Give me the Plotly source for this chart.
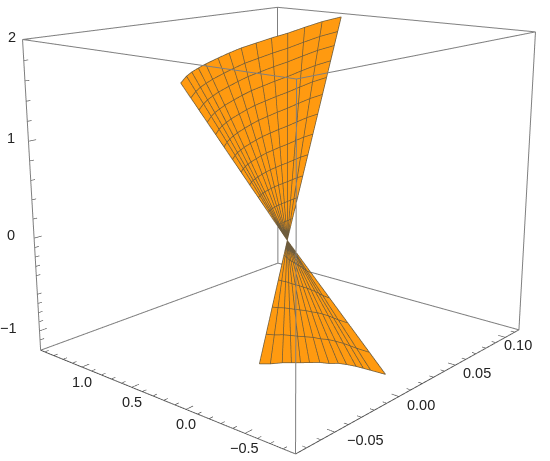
import numpy as np
import plotly.graph_objects as go

upper_x = [.108,.0955,.0837,.0723,.0618,.0518,.0424,.0345,.0270,.0188,.0137,.0092,.0052,0]
upper_y = [.723,.777,.819,.858,.898,.933,.967,.990,1.007,1.026,1.033,1.040,1.040,1.03]
upper_z = [1.98,1.943,1.896,1.848,1.811,1.771,1.733,1.693,1.653,1.605,1.573,1.541,1.507,1.45]
lower_x = [-.0255,-.0231,-.0204,-.0184,-.0164,-.0145,-.0123,-.0104,-.0085,-.0069,-.0051,-.0038,-.0026,0]
lower_y = [0,-.069,-.142,-.199,-.255,-.311,-.374,-.432,-.488,-.540,-.599,-.646,-.692,-.786]
lower_z = [-1.09,-1.077,-1.052,-1.041,-1.030,-1.017,-1.004,-1.002,-.990,-.990,-.996,-1.005,-1.013,-1.032]
apex = [-0.004, 0.0, 0.077]
upper_arcs_first = [1,.925,.855,.78,.70,.62,.53,.44,.35,.26,.17,.085,0]
upper_arcs_last  = [1,.90,.82,.74,.66,.58,.50,.42,.34,.26,.17,.085,0]
lower_arcs_first = [1,.76,.54,.32,.12,0]
lower_arcs_last  = [1,.84,.625,.44,.25,0]

x_range = [-0.078, 0.115]
y_range = [-0.9, 1.45]
z_range = [-1.22, 2.01]
x_major = [-0.05, 0.0, 0.05, 0.10]
y_major = [-0.5, 0.0, 0.5, 1.0]
z_major = [-1, 0, 1, 2]
x_labels = ["\u22120.05", "0.00", "0.05", "0.10"]
y_labels = ["\u22120.5", "0.0", "0.5", "1.0"]
z_labels = ["\u22121", "0", "1", "2"]
x_minor = [-0.07,-0.06,-0.04,-0.03,-0.02,-0.01,0.01,0.02,0.03,0.04,0.06,0.07,0.08,0.09,0.11]
y_minor = [-0.8,-0.7,-0.6,-0.4,-0.3,-0.2,-0.1,0.1,0.2,0.3,0.4,0.6,0.7,0.8,0.9,1.1,1.2,1.3,1.4]
z_minor = [-1.1,-0.9,-0.8,-0.7,-0.6,-0.4,-0.3,-0.2,-0.1,0.2,0.4,0.6,0.8,1.2,1.4,1.6,1.8]

ORANGE = "#FF9A10"
MESH = "#6e5c3c"
EDGE = "#7f7f7f"
EYE = [-2.729, -2.356, 0.977]
ASPECT = [1.16, 1.075, 1.0]
LIFT = 0.006
FIG_W = 570
FIG_H = 978
SHIFT_UP = 296

spans = [x_range[1]-x_range[0], y_range[1]-y_range[0], z_range[1]-z_range[0]]
lift = [LIFT*EYE[i]/np.linalg.norm(EYE)*spans[i]/ASPECT[i] for i in range(3)]
inset = [0.002*s for s in spans]


def sheet(rx, ry, rz, first, last):
    rim = np.array([rx, ry, rz], float)
    o = np.array(apex)[:, None]
    t = np.linspace(0, 1, rim.shape[1])[None, :]
    frac = np.array(first)[:, None] * (1 - t) + np.array(last)[:, None] * t
    return o[None, :, :].transpose(1, 0, 2) + frac[None, :, :] * (rim - o)[:, None, :]


def mesh_lines(g):
    out = [[], [], []]
    for k in range(3):
        for i in range(g.shape[1]):
            out[k] += list(g[k, i] + lift[k]) + [None]
        for j in range(g.shape[2]):
            out[k] += list(g[k, :, j] + lift[k]) + [None]
    return out


fig = go.Figure()
for g in (sheet(upper_x, upper_y, upper_z, upper_arcs_first, upper_arcs_last),
          sheet(lower_x, lower_y, lower_z, lower_arcs_first, lower_arcs_last)):
    fig.add_trace(go.Surface(x=g[0], y=g[1], z=g[2], surfacecolor=np.zeros(g[0].shape),
                             colorscale=[[0, ORANGE], [1, ORANGE]], showscale=False, hoverinfo="skip",
                             lighting=dict(ambient=1, diffuse=0, specular=0, roughness=1, fresnel=0)))
    mx, my, mz = mesh_lines(g)
    fig.add_trace(go.Scatter3d(x=mx, y=my, z=mz, mode="lines", line=dict(color=MESH, width=1.5),
                               hoverinfo="skip", showlegend=False))

x0, y0, z0 = x_range[0]+inset[0], y_range[0]+inset[1], z_range[0]+inset[2]
x1, y1, z1 = x_range[1]-inset[0], y_range[1]-inset[1], z_range[1]-inset[2]
bx, by, bz = [], [], []
for a in (x0, x1):
    for b in (y0, y1):
        bx += [a, a, None]; by += [b, b, None]; bz += [z0, z1, None]
    for c in (z0, z1):
        bx += [a, a, None]; by += [y0, y1, None]; bz += [c, c, None]
for b in (y0, y1):
    for c in (z0, z1):
        bx += [x0, x1, None]; by += [b, b, None]; bz += [c, c, None]
fig.add_trace(go.Scatter3d(x=bx, y=by, z=bz, mode="lines", line=dict(color=EDGE, width=2),
                           hoverinfo="skip", showlegend=False))

tx, ty, tz = [], [], []
for vals, ln in ((x_major, .025), (x_minor, .014)):
    for v in vals:
        tx += [v, v, None]; ty += [y0, y0 + ln * spans[1], None]; tz += [z0, z0, None]
for vals, ln in ((y_major, .025), (y_minor, .014)):
    for v in vals:
        tx += [x0, x0 + ln * spans[0], None]; ty += [v, v, None]; tz += [z0, z0, None]
for vals, ln in ((z_major, .025), (z_minor, .014)):
    for v in vals:
        tx += [x0, x0 + ln * spans[0], None]; ty += [y1, y1, None]; tz += [v, v, None]
tx += [x0, x1, None, x0, x0, None]; ty += [y0, y0, None, y0, y1, None]; tz += [z0, z0, None, z0, z0, None]
fig.add_trace(go.Scatter3d(x=tx, y=ty, z=tz, mode="lines", line=dict(color="#444444", width=1.2),
                           hoverinfo="skip", showlegend=False))

LABEL_FONT = dict(family="Liberation Sans", size=14.5, color="#222222")
def lab(x, y, z, text, xs, ys):
    return dict(x=x, y=y, z=z, text=text, showarrow=False, xanchor="center", yanchor="middle",
                xshift=xs, yshift=ys, font=LABEL_FONT)

notes = []
x_shift_px = [31, 22, 22, 13]
for v, t, xs in zip(x_major, x_labels, x_shift_px):
    notes.append(lab(v, y0, z0, t, xs, -8))
for v, t in zip(y_major, y_labels):
    notes.append(lab(x0, v, z0, t, 0, -15))
z_shift_px = [-31, -23, -17, -11]
for v, t, xs in zip(z_major, z_labels, z_shift_px):
    notes.append(lab(x0, y1, v, t, xs, 3))

def axis(rng):
    return dict(range=rng, title=dict(text=""), showgrid=False, zeroline=False, showbackground=False,
                showline=False, ticks="", showticklabels=False, showspikes=False)

fig.update_layout(
    width=FIG_W, height=FIG_H, margin=dict(l=0, r=0, t=0, b=0), paper_bgcolor="white", showlegend=False,
    scene=dict(
        domain=dict(x=[0, 1], y=[0, 1]),
        xaxis=axis(x_range), yaxis=axis(y_range), zaxis=axis(z_range),
        annotations=notes,
        aspectmode="manual", aspectratio=dict(x=ASPECT[0], y=ASPECT[1], z=ASPECT[2]),
        camera=dict(eye=dict(x=EYE[0], y=EYE[1], z=EYE[2]), center=dict(x=0, y=0, z=0), up=dict(x=0, y=0, z=1),
                    projection=dict(type="perspective")),
    ),
)
shift_js = ("var s=document.documentElement.style,b=document.body.style;"
            "s.overflow='hidden';s.height='461px';b.overflow='hidden';b.height='461px';b.margin='0';"
            "document.getElementById('{plot_id}').style.marginTop='-%dpx';" % SHIFT_UP)
fig.write_html("out.html", post_script=shift_js)
